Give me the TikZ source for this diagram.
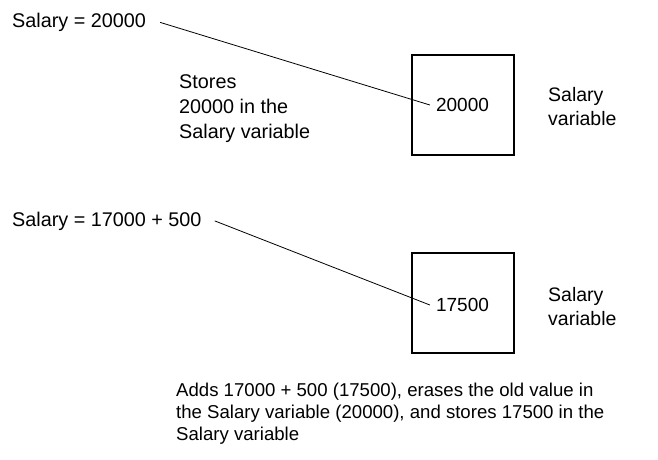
\documentclass[tikz,border=0pt]{standalone}
\usepackage{fontspec}
\setmainfont{Liberation Sans}
\begin{document}
\begin{tikzpicture}[x=1pt,y=-1pt,
  txt/.style={inner sep=0pt, anchor=base west, align=left, font=\fontsize{19.8}{25}\selectfont},
  lbl/.style={txt, font=\fontsize{19.5}{23.5}\selectfont},
  note/.style={txt, font=\fontsize{18.6}{21.7}\selectfont},
  val/.style={inner sep=0pt, font=\fontsize{19}{23}\selectfont},
  varbox/.style={draw, line width=1.1pt, minimum width=102pt, minimum height=100pt, inner sep=0pt},
  conn/.style={draw, line width=0.8pt}]
\useasboundingbox (0,0) rectangle (658,459);
% first assignment
\node[txt] (e1) at (12,27) {Salary = 20000};
\node[txt] (s1) at (179,138) {Stores\\20000 in the\\Salary variable};
\node[varbox] (b1) at (463,105) {};
\node[val] (v1) at (462.5,105) {20000};
\node[lbl] (l1) at (548,125.2) {Salary\\variable};
\draw[conn] ([xshift=14pt,yshift=-0.5pt]e1.east) -- ([xshift=-6pt]v1.west);
% second assignment
\node[txt] (e2) at (12,226) {Salary = 17000 + 500};
\node[varbox] (b2) at (463,303) {};
\node[val] (v2) at (462.5,305) {17500};
\node[lbl] (l2) at (548,325.2) {Salary\\variable};
\draw[conn] ([xshift=13pt]e2.east) -- ([xshift=-6pt]v2.west);
% explanation
\node[note] (n) at (176,440.1) {Adds 17000 + 500 (17500), erases the old value in\\the Salary variable (20000), and stores 17500 in the\\Salary variable};
\end{tikzpicture}
\end{document}
